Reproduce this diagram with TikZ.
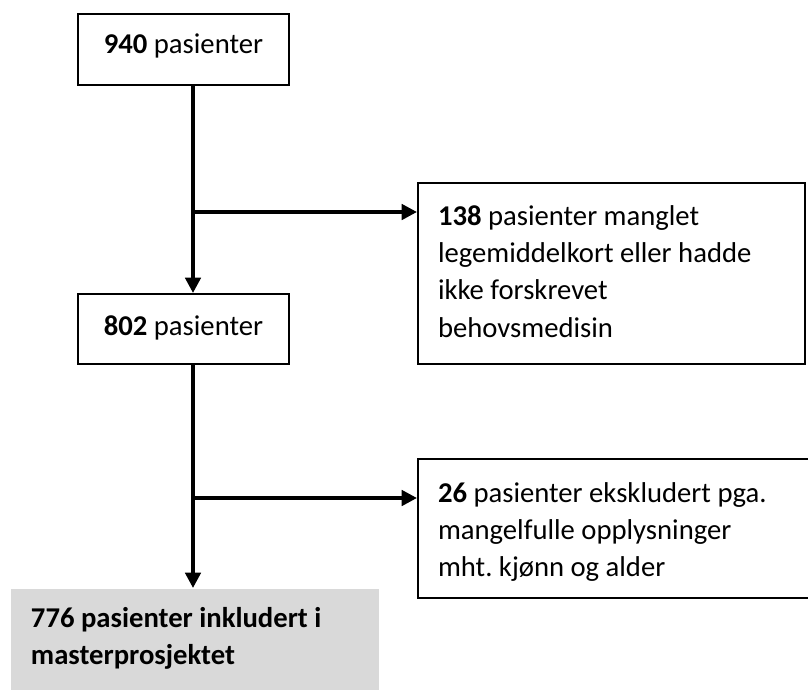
\documentclass[tikz,border=0pt]{standalone}
\usepackage{fontspec}
\setmainfont{Carlito}
\usepackage{xcolor}
\usetikzlibrary{arrows.meta}

\definecolor{boxgray}{RGB}{217,217,217}
\frenchspacing

\tikzset{
  flowbox/.style={draw=black, line width=1.5pt, inner xsep=15pt, inner ysep=15pt,
    font=\fontsize{21.5}{28.1}\selectfont},
  sidebox/.style={flowbox, align=flush left, anchor=north west},
  flow/.style={line width=2.7pt, -{Triangle[length=11.5pt,width=11.5pt]}}
}

\begin{document}
\begin{tikzpicture}[x=0.75pt,y=-0.75pt]
\useasboundingbox (0,0) rectangle (808,690);

% Main boxes
\node[flowbox, anchor=north west, minimum width=158.25pt,
  text height=14.25pt, text depth=9pt] (n940) at (77,13) {\textbf{940} pasienter};
\node[flowbox, anchor=north west, minimum width=158.25pt,
  text height=15.75pt, text depth=6.75pt] (n802) at (77,293) {\textbf{802} pasienter};

% Excluded boxes
\node[sidebox, text width=260.25pt, text height=16.5pt, text depth=89.25pt]
  (ex138) at (417,182) {\textbf{138} pasienter manglet\\legemiddelkort eller hadde\\ikke forskrevet\\behovsmedisin};
\node[sidebox, text width=266.25pt, text height=17.25pt, text depth=57pt]
  (ex26) at (417,458) {\textbf{26} pasienter ekskludert pga.\\mangelfulle opplysninger\\mht. kjønn og alder};

% Final box
\node[sidebox, draw=none, fill=boxgray, text width=246pt, inner ysep=14.25pt,
  text height=14.25pt, text depth=41.25pt, font=\fontsize{21.5}{28.1}\selectfont\bfseries]
  (n776) at (10,588) {776 pasienter inkludert i\\masterprosjektet};

% Branch points
\coordinate (b1) at (193,212);
\coordinate (b2) at (193,498);

% Arrows
\draw[flow] (n940.south -| b1) -- (n802.north -| b1);
\draw[flow] (b1) -- (ex138.west |- b1);
\draw[flow] (n802.south -| b2) -- (n776.north -| b2);
\draw[flow] (b2) -- (ex26.west |- b2);

\end{tikzpicture}
\end{document}
